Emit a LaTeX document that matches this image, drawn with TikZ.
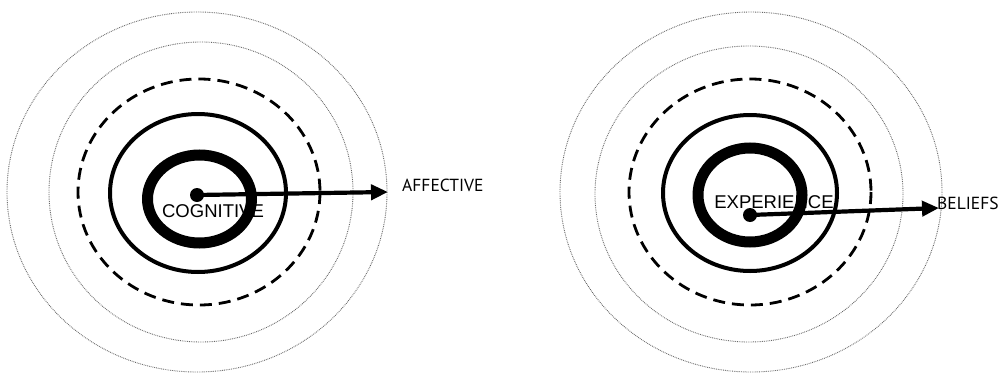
\documentclass[tikz,border=0pt]{standalone}
\usepackage{fontspec}
\setmainfont{Liberation Sans}
\newfontfamily\labfont{PT Sans}
\usetikzlibrary{arrows.meta}
\tikzset{
  dotring/.style={draw=black!60, line width=0.9pt, dash pattern=on 0.8pt off 1.0pt},
  dashring/.style={draw=black, line width=2.8pt, dash pattern=on 12pt off 7pt},
  solidring/.style={draw=black, line width=4pt},
  thickring/.style={draw=black, line width=11pt},
  centerdot/.style={circle, fill=black, inner sep=0pt, minimum size=14pt},
  ptr/.style={line width=4.2pt, -{Triangle[length=17pt,width=15pt]}},
  inner/.style={font=\fontsize{18.5}{20}\selectfont, inner sep=0pt},
  outerlab/.style={font=\labfont\fontsize{17.5}{19}\selectfont, inner sep=0pt, anchor=west}
}
\begin{document}
\begin{tikzpicture}[x=1pt,y=-1pt]
\useasboundingbox (0,0) rectangle (998,375);
\fill[white] (0,0) rectangle (998,375);
% ---------- left target ----------
\draw[dotring] (197,192) ellipse [x radius=190, y radius=180];
\draw[dotring] (201,192) ellipse [x radius=152, y radius=150];
\draw[dashring] (199,192) ellipse [x radius=121, y radius=113];
\draw[solidring] (198,193) ellipse [x radius=88, y radius=79];
\node[inner] (cog) at (213,211) {COGNITIVE};
\draw[thickring] (199.5,199) ellipse [x radius=52, y radius=44];
\node[centerdot] (cdot) at (197,195) {};
\coordinate (ctip) at (388,192);
\draw[ptr] (cdot.center) -- (ctip);
\node[outerlab] (aff) at (402,185) {AFFECTIVE};
% ---------- right target ----------
\draw[dotring] (751,192) ellipse [x radius=191, y radius=180];
\draw[dotring] (749,194) ellipse [x radius=154, y radius=148];
\draw[dashring] (750,192) ellipse [x radius=121, y radius=113];
\draw[solidring] (750,193) ellipse [x radius=87, y radius=78];
\node[inner] (exp) at (774,202) {EXPERIENCE};
\draw[thickring] (750,195) ellipse [x radius=52, y radius=47];
\node[centerdot] (edot) at (750,215) {};
\coordinate (etip) at (939,208);
\draw[ptr] (edot.center) -- (etip);
\node[outerlab] (bel) at (937,203) {BELIEFS};
\end{tikzpicture}
\end{document}
